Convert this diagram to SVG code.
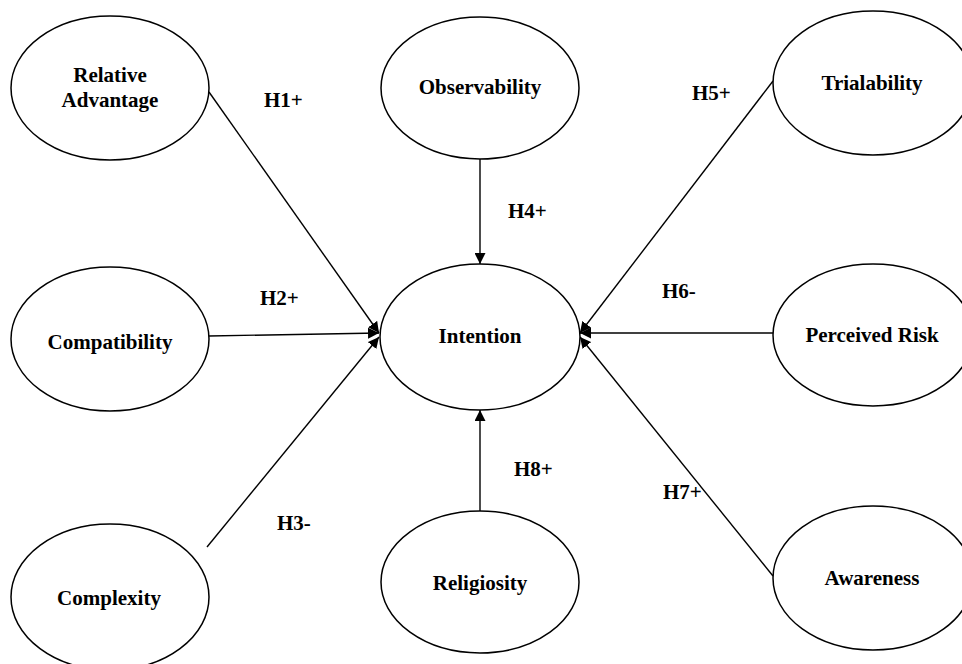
<svg xmlns="http://www.w3.org/2000/svg" width="962" height="664" viewBox="0 0 962 664">
<defs>
<style>
.node ellipse{fill:#fff;stroke:#000;stroke-width:1.5}
text{font-family:"Liberation Serif","Times New Roman",serif;font-weight:bold;font-size:21px;fill:#000;text-anchor:middle}
.lbl{text-anchor:start}
.edge{stroke:#000;stroke-width:1.4;fill:none;marker-end:url(#ah)}
</style>
<marker id="ah" viewBox="0 0 10 10" refX="10" refY="5" markerWidth="11" markerHeight="11" orient="auto" markerUnits="userSpaceOnUse">
<path d="M0,0 L10,5 L0,10 Z" fill="#000"/>
</marker>
</defs>
<rect width="962" height="664" fill="#fff"/>
<g id="connectors">
<line class="edge" x1="209" y1="92" x2="379" y2="333"/>
<line class="edge" x1="209" y1="336" x2="379" y2="333"/>
<line class="edge" x1="207" y1="547" x2="379" y2="337"/>
<line class="edge" x1="480" y1="159" x2="480" y2="264"/>
<line class="edge" x1="480" y1="511" x2="480" y2="410"/>
<line class="edge" x1="773" y1="81" x2="580" y2="333"/>
<line class="edge" x1="773" y1="333" x2="580" y2="333"/>
<line class="edge" x1="773" y1="576" x2="580" y2="337"/>
</g>
<g id="labels">
<text class="lbl" x="264" y="107">H1+</text>
<text class="lbl" x="260" y="305">H2+</text>
<text class="lbl" x="277" y="530">H3-</text>
<text class="lbl" x="508" y="218">H4+</text>
<text class="lbl" x="692" y="100">H5+</text>
<text class="lbl" x="662" y="298">H6-</text>
<text class="lbl" x="663" y="499">H7+</text>
<text class="lbl" x="514" y="476">H8+</text>
</g>
<g id="relative-advantage" class="node"><ellipse cx="110" cy="88" rx="99" ry="72"/><text x="110" y="82">Relative</text><text x="110" y="107">Advantage</text></g>
<g id="observability" class="node"><ellipse cx="480" cy="88" rx="99" ry="71"/><text x="480" y="94">Observability</text></g>
<g id="trialability" class="node"><ellipse cx="873" cy="83" rx="100" ry="72"/><text x="872" y="90">Trialability</text></g>
<g id="compatibility" class="node"><ellipse cx="110" cy="339" rx="99" ry="72"/><text x="110" y="349">Compatibility</text></g>
<g id="intention" class="node"><ellipse cx="480" cy="337" rx="100" ry="73"/><text x="480" y="343">Intention</text></g>
<g id="perceived-risk" class="node"><ellipse cx="873" cy="335" rx="100" ry="71"/><text x="872" y="342">Perceived Risk</text></g>
<g id="complexity" class="node"><ellipse cx="110" cy="597" rx="99" ry="73"/><text x="109" y="605">Complexity</text></g>
<g id="religiosity" class="node"><ellipse cx="480" cy="582" rx="99" ry="71"/><text x="480" y="590">Religiosity</text></g>
<g id="awareness" class="node"><ellipse cx="873" cy="578" rx="100" ry="72"/><text x="872" y="585">Awareness</text></g>
</svg>
